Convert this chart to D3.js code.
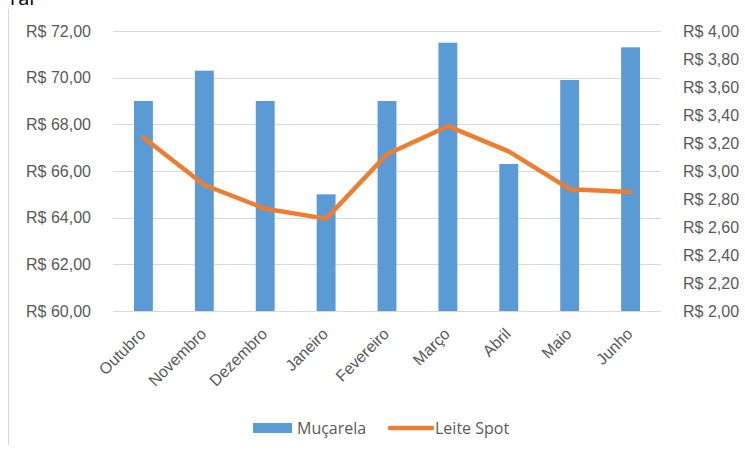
<!DOCTYPE html>
<html>
<head>
<meta charset="utf-8">
<script src="https://cdn.jsdelivr.net/npm/d3@7"></script>
<style>
  body { margin: 0; background: #fff; }
  svg { font-family: "Open Sans", "Liberation Sans", sans-serif; }
</style>
</head>
<body>
<svg id="chart" width="745" height="450"></svg>
<script>
// chart data
const months = ['Outubro', 'Novembro', 'Dezembro', 'Janeiro', 'Fevereiro', 'Março', 'Abril', 'Maio', 'Junho'];
const mucarela = [69.0, 70.3, 69.0, 65.0, 69.0, 71.5, 66.3, 69.9, 71.3];
const leiteSpot = [3.24, 2.90, 2.73, 2.66, 3.12, 3.32, 3.14, 2.87, 2.85];
const leftTicks = [60, 62, 64, 66, 68, 70, 72];
const rightTicks = [2.0, 2.2, 2.4, 2.6, 2.8, 3.0, 3.2, 3.4, 3.6, 3.8, 4.0];

const margin = { top: 31, right: 84, bottom: 139, left: 113 };
const width = 745;
const height = 450;
const fontSize = '16px';

const svg = d3.select('#chart');

const fmt = (v) => 'R$ ' + v.toFixed(2).replace('.', ',');

const x = d3.scaleBand()
  .domain(months)
  .range([margin.left, width - margin.right])
  .paddingInner(0.69)
  .paddingOuter(0.345);

const yLeft = d3.scaleLinear()
  .domain([60, 72])
  .range([height - margin.bottom, margin.top]);

const yRight = d3.scaleLinear()
  .domain([2, 4])
  .range([height - margin.bottom, margin.top]);

// cut-off title fragment and chart border
svg.append('text')
  .attr('x', 10)
  .attr('y', 5)
  .style('font-size', '20px')
  .style('fill', '#000')
  .text('ral');

svg.append('line')
  .attr('x1', 8.5).attr('x2', 8.5)
  .attr('y1', 9).attr('y2', 445)
  .attr('stroke', '#d9d9d9');

// gridlines
svg.append('g')
  .selectAll('line')
  .data(leftTicks)
  .enter()
  .append('line')
  .attr('x1', margin.left)
  .attr('x2', width - margin.right)
  .attr('y1', (d) => Math.round(yLeft(d)) + 0.5)
  .attr('y2', (d) => Math.round(yLeft(d)) + 0.5)
  .attr('stroke', '#d9d9d9')
  .attr('stroke-width', 1);

// left axis
const axisL = svg.append('g')
  .attr('transform', `translate(${margin.left - 22}, 0)`)
  .call(d3.axisLeft(yLeft).tickValues(leftTicks).tickFormat(fmt).tickSize(0));
axisL.select('.domain').remove();
axisL.selectAll('text')
  .attr('x', 0)
  .style('font-size', fontSize)
  .style('fill', '#595959');

// right axis
const axisR = svg.append('g')
  .attr('transform', `translate(${width - margin.right + 22}, 0)`)
  .call(d3.axisRight(yRight).tickValues(rightTicks).tickFormat(fmt).tickSize(0));
axisR.select('.domain').remove();
axisR.selectAll('text')
  .attr('x', 0)
  .style('font-size', fontSize)
  .style('fill', '#595959');

// bars
svg.append('g')
  .selectAll('rect')
  .data(mucarela)
  .enter()
  .append('rect')
  .attr('x', (d, i) => x(months[i]))
  .attr('y', (d) => yLeft(d))
  .attr('width', x.bandwidth())
  .attr('height', (d) => yLeft(60) - yLeft(d))
  .attr('fill', '#5b9bd5');

// line
const line = d3.line()
  .x((d, i) => x(months[i]) + x.bandwidth() / 2)
  .y((d) => yRight(d));

svg.append('path')
  .datum(leiteSpot)
  .attr('d', line)
  .attr('fill', 'none')
  .attr('stroke', '#ed7d31')
  .attr('stroke-width', 4.5)
  .attr('stroke-linejoin', 'round')
  .attr('stroke-linecap', 'round');

// x axis labels
const axisX = svg.append('g')
  .attr('transform', `translate(0, ${height - margin.bottom})`)
  .call(d3.axisBottom(x).tickSize(0));
axisX.select('.domain').remove();
axisX.selectAll('text')
  .attr('y', 0)
  .attr('dy', 0)
  .attr('transform', 'translate(3, 24) rotate(-45)')
  .style('text-anchor', 'end')
  .style('font-size', fontSize)
  .style('fill', '#595959');

// legend
const legend = svg.append('g').attr('transform', 'translate(253, 428)');
legend.append('rect')
  .attr('x', 0).attr('y', -5)
  .attr('width', 39).attr('height', 10)
  .attr('fill', '#5b9bd5');
legend.append('text')
  .attr('x', 44).attr('y', 0)
  .attr('dy', '0.35em')
  .style('font-size', fontSize)
  .style('fill', '#595959')
  .text('Muçarela');
legend.append('line')
  .attr('x1', 137).attr('x2', 179)
  .attr('y1', 0).attr('y2', 0)
  .attr('stroke', '#ed7d31')
  .attr('stroke-width', 4.5)
  .attr('stroke-linecap', 'round');
legend.append('text')
  .attr('x', 182).attr('y', 0)
  .attr('dy', '0.35em')
  .style('font-size', fontSize)
  .style('fill', '#595959')
  .text('Leite Spot');
</script>
</body>
</html>
